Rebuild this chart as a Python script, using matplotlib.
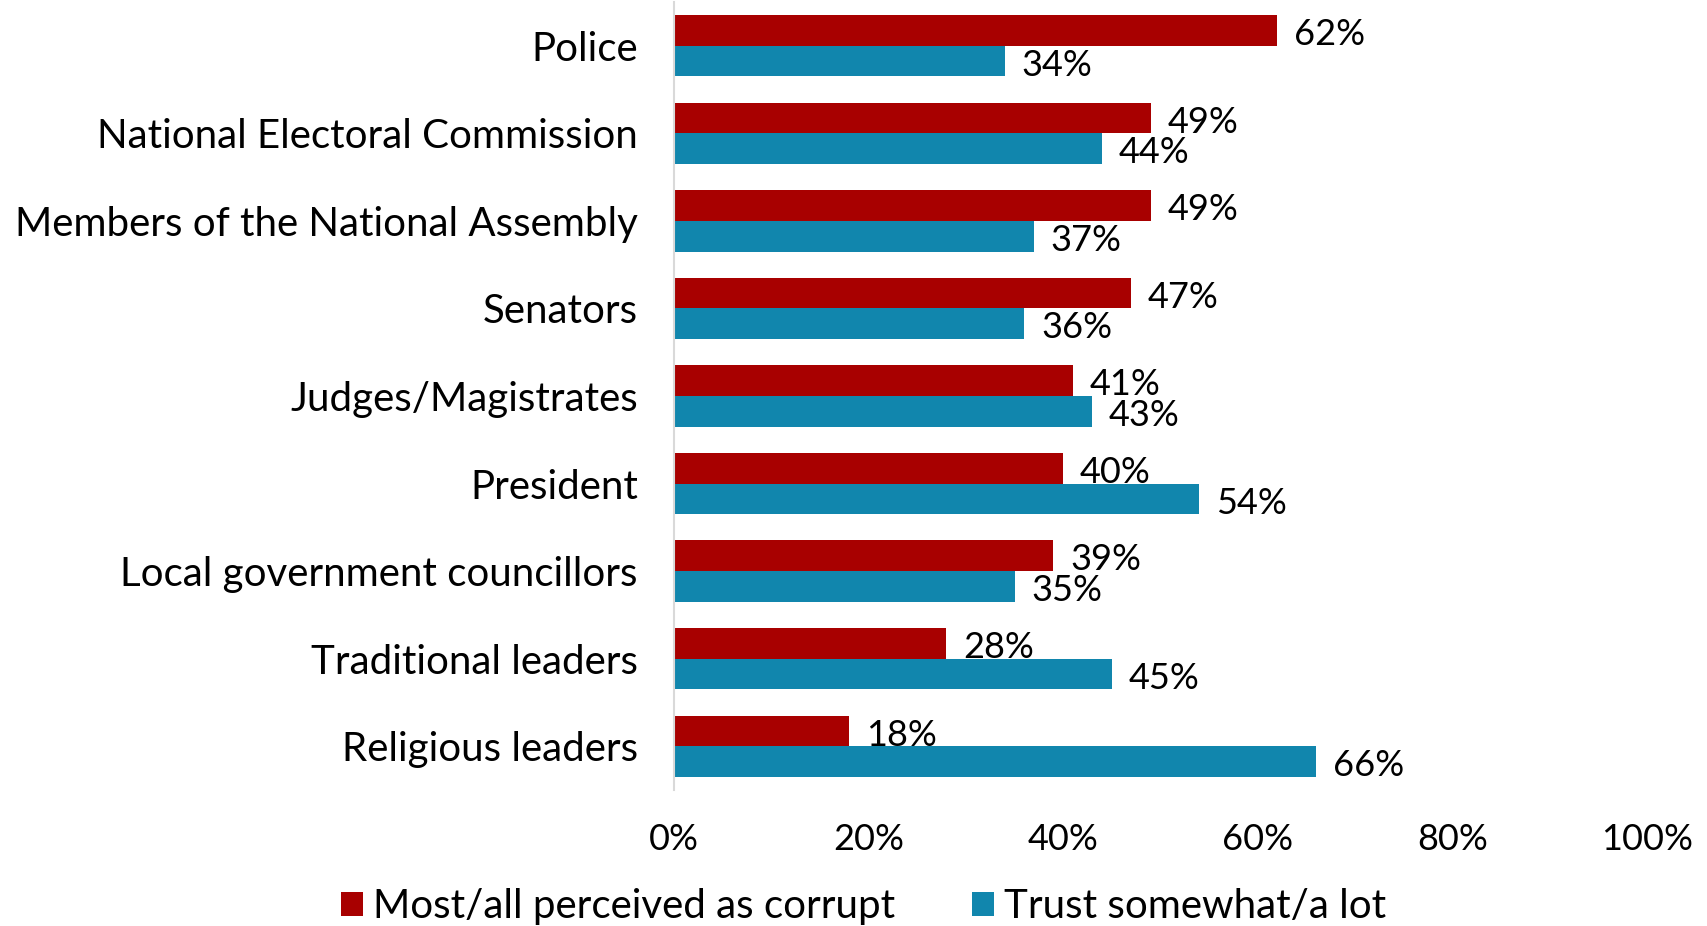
import matplotlib
matplotlib.use("Agg")
import matplotlib.pyplot as plt
import numpy as np

categories = [
    "Police",
    "National Electoral Commission",
    "Members of the National Assembly",
    "Senators",
    "Judges/Magistrates",
    "President",
    "Local government councillors",
    "Traditional leaders",
    "Religious leaders",
]
corrupt = [62, 49, 49, 47, 41, 40, 39, 28, 18]
trust = [34, 44, 37, 36, 43, 54, 35, 45, 66]
series_names = ["Most/all perceived as corrupt", "Trust somewhat/a lot"]
x_ticks = [0, 20, 40, 60, 80, 100]

RED = "#A80000"
BLUE = "#1186AD"
FONT = "Lato"

fig = plt.figure(figsize=(17.07, 9.26), dpi=100)
ax = fig.add_axes([0.3948, 0.1469, 0.5701, 0.8509])

y = np.arange(len(categories))
h = 0.35
ax.barh(y - h / 2, corrupt, height=h, color=RED, label=series_names[0])
ax.barh(y + h / 2, trust, height=h, color=BLUE, label=series_names[1])

for yi, v in zip(y, corrupt):
    ax.annotate(f"{v}%", (v, yi - h / 2), xytext=(12, -3), textcoords="offset points",
                va="center", ha="left", fontsize=26, family=FONT)
for yi, v in zip(y, trust):
    ax.annotate(f"{v}%", (v, yi + h / 2), xytext=(12, -3), textcoords="offset points",
                va="center", ha="left", fontsize=26, family=FONT)

ax.set_xlim(0, 100)
ax.set_ylim(len(categories) - 0.5, -0.5)
ax.set_yticks(y)
ax.set_yticklabels(categories, fontsize=29, family=FONT)
ax.set_xticks(x_ticks)
ax.set_xticklabels([f"{t}%" for t in x_ticks], fontsize=26, family=FONT)
ax.tick_params(axis="y", length=0, pad=26)
ax.tick_params(axis="x", length=0, pad=24)

for s in ["top", "right", "bottom"]:
    ax.spines[s].set_visible(False)
ax.spines["left"].set_color("#D9D9D9")
ax.spines["left"].set_linewidth(1.5)

fig.legend(loc="center", bbox_to_anchor=(0.506, 0.021), ncol=2, frameon=False,
           prop={"family": FONT, "size": 29}, handlelength=0.55, handleheight=0.55,
           handletextpad=0.25, columnspacing=1.9)

fig.savefig("out.png", dpi=100)
